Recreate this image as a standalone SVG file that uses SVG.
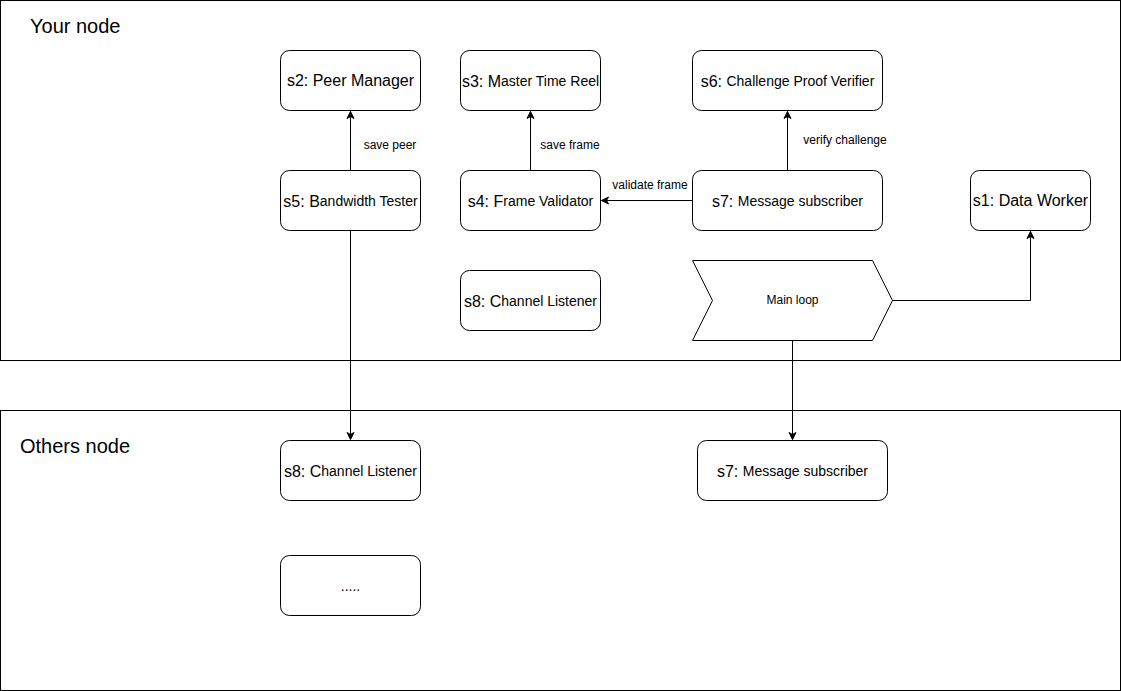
<svg xmlns="http://www.w3.org/2000/svg" width="1121" height="691" viewBox="0 0 1121 691">
<style>
.box{fill:#fff;stroke:#000;stroke-width:1}
.t{font-family:"Liberation Sans",Arial,sans-serif;fill:#000;text-anchor:middle;dominant-baseline:central}
.b{font-size:16px}
.s{font-size:14px}
.lbl{font-family:"Liberation Sans",Arial,sans-serif;font-size:12px;fill:#000;text-anchor:middle;dominant-baseline:central}
.ttl{font-family:"Liberation Sans",Arial,sans-serif;font-size:20px;fill:#000}
.edge{fill:none;stroke:#000;stroke-width:1}
</style>
<defs>
<marker id="arr" markerWidth="10" markerHeight="10" refX="8" refY="5" orient="auto" markerUnits="userSpaceOnUse">
<path d="M1,1.5 L8,5 L1,8.5 L3,5 Z" fill="#000" stroke="#000" stroke-width="1"/>
</marker>
</defs>
<rect width="1121" height="691" fill="#fff"/>
<g id="your-node">
<rect x="0.5" y="0.5" width="1120" height="360" fill="none" stroke="#000"/>
<text class="ttl" x="30" y="33">Your node</text>
</g>
<g id="others-node">
<rect x="0.5" y="410.5" width="1120" height="280" fill="none" stroke="#000"/>
<text class="ttl" x="20" y="453">Others node</text>
</g>
<g id="s2">
<rect class="box" x="280.5" y="50.5" width="140" height="60" rx="9"/>
<text class="t b" x="350.5" y="80.5">s2: Peer Manager</text>
</g>
<g id="s3">
<rect class="box" x="460.5" y="50.5" width="140" height="60" rx="9"/>
<text class="t" x="530.5" y="80.5"><tspan class="b">s3: M</tspan><tspan class="s">aster Time Reel</tspan></text>
</g>
<g id="s6">
<rect class="box" x="692.5" y="50.5" width="190" height="60" rx="9"/>
<text class="t" x="787.5" y="80.5"><tspan class="b">s6: </tspan><tspan class="s">Challenge Proof Verifier</tspan></text>
</g>
<g id="s5">
<rect class="box" x="280.5" y="170.5" width="140" height="60" rx="9"/>
<text class="t" x="350.5" y="200.5"><tspan class="b">s5: B</tspan><tspan class="s">andwidth Tester</tspan></text>
</g>
<g id="s4">
<rect class="box" x="460.5" y="170.5" width="140" height="60" rx="9"/>
<text class="t" x="530.5" y="200.5"><tspan class="b">s4: F</tspan><tspan class="s">rame Validator</tspan></text>
</g>
<g id="s7">
<rect class="box" x="692.5" y="170.5" width="190" height="60" rx="9"/>
<text class="t" x="787.5" y="200.5"><tspan class="b">s7: </tspan><tspan class="s">Message subscriber</tspan></text>
</g>
<g id="s1">
<rect class="box" x="970.5" y="170.5" width="120" height="60" rx="9"/>
<text class="t b" x="1030.5" y="200.5">s1: Data Worker</text>
</g>
<g id="s8">
<rect class="box" x="460.5" y="270.5" width="140" height="60" rx="9"/>
<text class="t" x="530.5" y="300.5"><tspan class="b">s8: C</tspan><tspan class="s">hannel Listener</tspan></text>
</g>
<g id="main-loop">
<path class="box" d="M692.5,260.5 L872.5,260.5 L892.5,300.5 L872.5,340.5 L692.5,340.5 L712.5,300.5 Z"/>
<text class="lbl" x="792.5" y="300">Main loop</text>
</g>
<g id="other-s8">
<rect class="box" x="280.5" y="440.5" width="140" height="60" rx="9"/>
<text class="t" x="350.5" y="470.5"><tspan class="b">s8: C</tspan><tspan class="s">hannel Listener</tspan></text>
</g>
<g id="other-s7">
<rect class="box" x="697.5" y="440.5" width="190" height="60" rx="9"/>
<text class="t" x="792.5" y="470.5"><tspan class="b">s7: </tspan><tspan class="s">Message subscriber</tspan></text>
</g>
<g id="other-more">
<rect class="box" x="280.5" y="555.5" width="140" height="60" rx="9"/>
<text class="t s" x="350.5" y="585.5">.....</text>
</g>
<g id="connectors">
<path class="edge" d="M350.5,170.5 L350.5,111.5" marker-end="url(#arr)"/>
<text class="lbl" x="390" y="145">save peer</text>
<path class="edge" d="M530.5,170.5 L530.5,111.5" marker-end="url(#arr)"/>
<text class="lbl" x="570" y="145">save frame</text>
<path class="edge" d="M787.5,170.5 L787.5,111.5" marker-end="url(#arr)"/>
<text class="lbl" x="845" y="140">verify challenge</text>
<path class="edge" d="M692.5,200.5 L601.5,200.5" marker-end="url(#arr)"/>
<text class="lbl" x="650" y="185">validate frame</text>
<path class="edge" d="M892.5,300.5 L1030.5,300.5 L1030.5,231.5" marker-end="url(#arr)"/>
<path class="edge" d="M350.5,230.5 L350.5,439.5" marker-end="url(#arr)"/>
<path class="edge" d="M792.5,340.5 L792.5,439.5" marker-end="url(#arr)"/>
</g>
</svg>
